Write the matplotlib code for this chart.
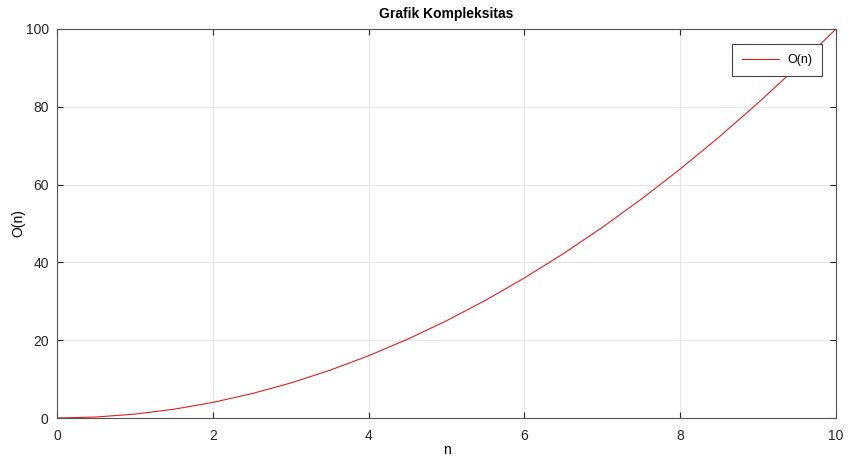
import matplotlib.pyplot as plt

n_values = [0, 0.5, 1, 1.5, 2, 2.5, 3, 3.5, 4, 4.5, 5, 5.5, 6, 6.5, 7,
            7.5, 8, 8.5, 9, 9.5, 10]
o_values = [0, 0.25, 1, 2.25, 4, 6.25, 9, 12.25, 16, 20.25, 25, 30.25, 36,
            42.25, 49, 56.25, 64, 72.25, 81, 90.25, 100]
x_ticks = [0, 2, 4, 6, 8, 10]
y_ticks = [0, 20, 40, 60, 80, 100]

plt.rcParams['font.family'] = ['Liberation Sans', 'DejaVu Sans']
plt.rcParams['font.size'] = 10

fig = plt.figure(figsize=(8.56, 4.57), dpi=100)
ax = fig.add_axes([57 / 856, 1 - 418 / 457, (836 - 57) / 856, (418 - 29) / 457])

ax.plot(n_values, o_values, color='#e02020', linewidth=0.8, label='O(n)')
ax.set_xlim(0, 10)
ax.set_ylim(0, 100)
ax.set_xticks(x_ticks)
ax.set_yticks(y_ticks)
ax.grid(True, color='#e6e6e6', linewidth=0.8)
ax.tick_params(direction='in', top=True, right=True, length=4,
               colors='#262626', labelcolor='#262626')
ax.tick_params(axis='x', pad=8)
ax.tick_params(axis='y', pad=6)
for s in ax.spines.values():
    s.set_color('#555555')
    s.set_linewidth(0.8)

ax.set_title('Grafik Kompleksitas', fontweight='bold', fontsize=10, pad=8)
ax.set_xlabel('n', labelpad=0)
ax.set_ylabel('O(n)', labelpad=0)

leg = ax.legend(loc='upper right', bbox_to_anchor=(0.982, 0.9614), fancybox=False,
                edgecolor='#444444', framealpha=1, borderpad=0.8,
                handlelength=3.0, handletextpad=0.6, fontsize=9,
                borderaxespad=0)
leg.get_frame().set_linewidth(0.8)

plt.savefig('out.png', dpi=100)
